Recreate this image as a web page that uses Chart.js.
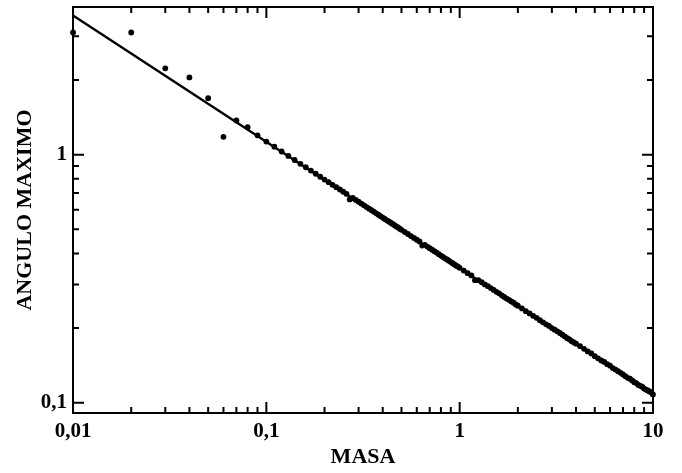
<!DOCTYPE html>
<html>
<head>
<meta charset="utf-8">
<script src="https://cdn.jsdelivr.net/npm/chart.js@4/dist/chart.umd.min.js"></script>
<style>
html,body{margin:0;padding:0;background:#fff;}
#wrap{width:682px;height:473px;position:relative;}
</style>
</head>
<body>
<div id="wrap"><canvas id="c" width="682" height="473"></canvas></div>
<script>
// ---- data ----
const masa = [
  0.01,0.02,0.03,0.04,0.05,0.06,0.07,0.08,0.09,0.10,
  0.11,0.12,0.13,0.14,0.15,0.16,0.17,0.18,0.19,0.20,
  0.21,0.22,0.23,0.24,0.25,0.26,0.27,0.28,0.29,0.30,
  0.31,0.32,0.33,0.34,0.35,0.36,0.37,0.38,0.39,0.40,
  0.41,0.42,0.43,0.44,0.45,0.46,0.47,0.48,0.49,0.50,
  0.52,0.54,0.56,0.58,0.60,0.62,0.64,0.66,0.68,0.70,
  0.72,0.74,0.76,0.78,0.80,0.82,0.84,0.86,0.88,0.90,
  0.92,0.94,0.96,0.98,1.00,
  1.05,1.10,1.15,1.20,1.25,1.30,1.35,1.40,1.45,1.50,
  1.55,1.60,1.65,1.70,1.75,1.80,1.85,1.90,1.95,2.00,
  2.1,2.2,2.3,2.4,2.5,2.6,2.7,2.8,2.9,3.0,
  3.1,3.2,3.3,3.4,3.5,3.6,3.7,3.8,3.9,4.0,
  4.2,4.4,4.6,4.8,5.0,5.2,5.4,5.6,5.8,6.0,
  6.2,6.4,6.6,6.8,7.0,7.2,7.4,7.6,7.8,8.0,
  8.2,8.4,8.6,8.8,9.0,9.2,9.4,9.6,9.8,10.0
];
const angulo = [
  3.11,3.11,2.23,2.05,1.69,1.18,1.375,1.29,1.197,1.13,
  1.077,1.030,0.989,0.952,0.919,0.890,0.863,0.838,0.815,0.794,
  0.775,0.756,0.740,0.724,0.709,0.695,0.660,0.669,0.657,0.646,
  0.635,0.625,0.615,0.606,0.597,0.589,0.580,0.573,0.565,0.558,
  0.551,0.544,0.538,0.532,0.526,0.520,0.514,0.509,0.503,0.498,
  0.488,0.479,0.470,0.462,0.454,0.447,0.430,0.433,0.426,0.420,
  0.414,0.408,0.403,0.397,0.392,0.387,0.382,0.378,0.374,0.369,
  0.365,0.361,0.357,0.354,0.350,
  0.341,0.333,0.326,0.312,0.312,0.306,0.300,0.295,0.290,0.285,
  0.280,0.276,0.271,0.267,0.263,0.260,0.256,0.253,0.249,0.246,
  0.240,0.234,0.229,0.224,0.220,0.215,0.211,0.207,0.204,0.200,
  0.197,0.194,0.191,0.188,0.185,0.182,0.180,0.177,0.175,0.173,
  0.169,0.165,0.161,0.158,0.154,0.151,0.148,0.146,0.143,0.141,
  0.138,0.136,0.134,0.132,0.130,0.128,0.126,0.125,0.123,0.121,
  0.120,0.118,0.117,0.116,0.114,0.113,0.112,0.111,0.110,0.108
];
const ajusteMasa = [0.01, 10];
const ajusteAngulo = [3.64, 0.108];
const xTickLabels = [0.01, 0.1, 1, 10];
const yTickLabels = [0.1, 1];
const xMinorTicks = [0.02,0.03,0.04,0.05,0.06,0.07,0.08,0.09,0.2,0.3,0.4,0.5,0.6,0.7,0.8,0.9,2,3,4,5,6,7,8,9];
const yMinorTicks = [0.2,0.3,0.4,0.5,0.6,0.7,0.8,0.9,2,3];
const xLabel = 'MASA';
const yLabel = 'ANGULO MAXIMO';

// ---- chart ----
const fmt = v => String(v).replace('.', ',');
const FONT = "'Liberation Serif','Times New Roman',serif";

const frameTicks = {
  id: 'frameTicks',
  afterDatasetsDraw(chart) {
    const {ctx, chartArea: a, scales: {x, y}} = chart;
    ctx.save();
    ctx.strokeStyle = '#000';
    ctx.lineWidth = 2;
    ctx.strokeRect(a.left, a.top, a.right - a.left, a.bottom - a.top);
    const MAJ = 11, MIN = 6;
    ctx.beginPath();
    const xt = xTickLabels.map(v => [v, MAJ]).concat(xMinorTicks.map(v => [v, MIN]));
    xt.forEach(([v, len]) => {
      const px = x.getPixelForValue(v);
      ctx.moveTo(px, a.bottom); ctx.lineTo(px, a.bottom - len);
      ctx.moveTo(px, a.top); ctx.lineTo(px, a.top + len);
    });
    const yt = yTickLabels.map(v => [v, MAJ]).concat(yMinorTicks.map(v => [v, MIN]));
    yt.forEach(([v, len]) => {
      const py = y.getPixelForValue(v);
      ctx.moveTo(a.left, py); ctx.lineTo(a.left + len, py);
      ctx.moveTo(a.right, py); ctx.lineTo(a.right - len, py);
    });
    ctx.stroke();
    ctx.restore();
  }
};

const whiteBg = {
  id: 'whiteBg',
  beforeDraw(chart) {
    const ctx = chart.ctx;
    ctx.save();
    ctx.fillStyle = '#fff';
    ctx.fillRect(0, 0, chart.width, chart.height);
    ctx.restore();
  }
};

new Chart(document.getElementById('c'), {
  type: 'scatter',
  data: {
    datasets: [
      {
        label: 'ajuste',
        data: ajusteMasa.map((m, i) => ({x: m, y: ajusteAngulo[i]})),
        showLine: true,
        borderColor: '#000',
        borderWidth: 2.4,
        pointRadius: 0,
        clip: false,
        order: 2
      },
      {
        label: 'datos',
        data: masa.map((m, i) => ({x: m, y: angulo[i]})),
        backgroundColor: '#000',
        borderWidth: 0,
        pointRadius: 2.9,
        clip: false,
        order: 1
      }
    ]
  },
  options: {
    responsive: false,
    animation: false,
    events: [],
    layout: {padding: {top: 7, right: 29, left: 0, bottom: 0}},
    plugins: {legend: {display: false}, tooltip: {enabled: false}},
    scales: {
      x: {
        type: 'logarithmic',
        min: 0.009995, max: 10.005,
        grid: {display: false, drawTicks: false},
        border: {display: false},
        afterBuildTicks: s => { s.ticks = xTickLabels.map(v => ({value: v})); },
        afterFit: s => { s.height = 60; s.paddingLeft = 0; s.paddingRight = 0; },
        ticks: {
          autoSkip: false, maxRotation: 0, padding: 6,
          color: '#000',
          font: {family: FONT, size: 21, weight: 'bold'},
          callback: v => fmt(v)
        },
        title: {
          display: true, text: xLabel, color: '#000',
          font: {family: FONT, size: 22, weight: 'bold'},
          padding: {top: 0, bottom: 2}
        }
      },
      y: {
        type: 'logarithmic',
        min: 0.0909, max: 3.94,
        grid: {display: false, drawTicks: false},
        border: {display: false},
        afterBuildTicks: s => { s.ticks = yTickLabels.map(v => ({value: v})); },
        afterFit: s => { s.width = 73; s.paddingTop = 0; s.paddingBottom = 0; },
        ticks: {
          autoSkip: false, padding: 6,
          color: '#000',
          font: {family: FONT, size: 21, weight: 'bold'},
          callback: v => fmt(v)
        },
        title: {
          display: true, text: yLabel, color: '#000',
          font: {family: FONT, size: 22, weight: 'bold'},
          padding: {top: 12, bottom: 0}
        }
      }
    }
  },
  plugins: [whiteBg, frameTicks]
});
</script>
</body>
</html>
